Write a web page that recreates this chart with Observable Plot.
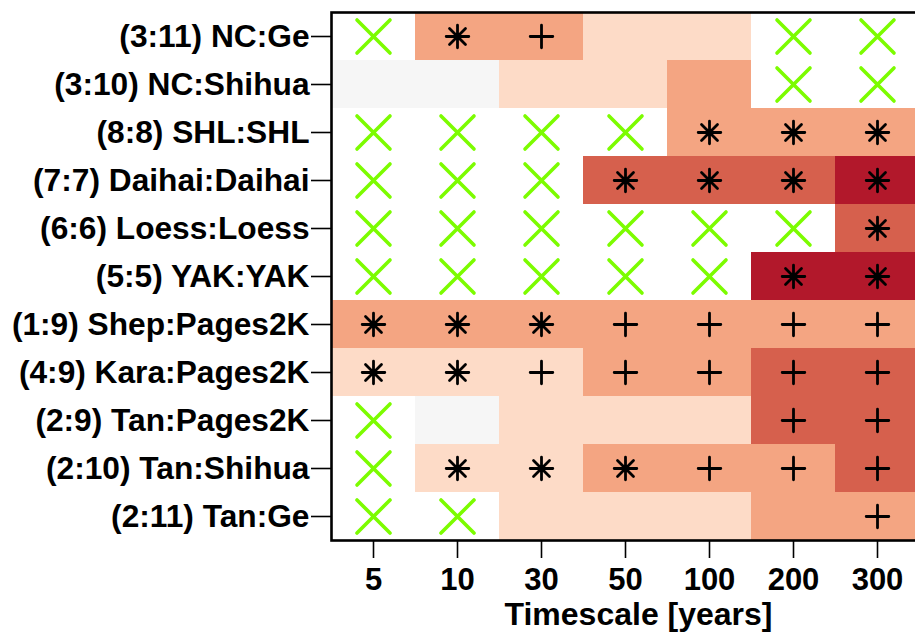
<!DOCTYPE html>
<html>
<head>
<meta charset="utf-8">
<script src="https://cdn.jsdelivr.net/npm/d3@7"></script>
<script src="https://cdn.jsdelivr.net/npm/@observablehq/plot@0.6"></script>
<style>
  html, body { margin: 0; padding: 0; background: #fff; overflow: hidden; }
  #wrap { position: relative; width: 915px; height: 633px; overflow: hidden; background: #fff; }
  #panel { position: absolute; left: 45px; top: -31px; font: bold 31px "Liberation Sans", Arial, sans-serif; line-height: 31px; color: #000; }
  #chart { position: absolute; left: 0; top: 0; width: 940px; }
  #chart svg { max-width: none !important; }
</style>
</head>
<body>
<div id="wrap">
  <div id="panel">(a)</div>
  <div id="chart"></div>
</div>
<script>
// Columns (timescales, years)
const timescales = ["5", "10", "30", "50", "100", "200", "300"];
// Rows, top to bottom
const records = [
  "(3:11) NC:Ge",
  "(3:10) NC:Shihua",
  "(8:8) SHL:SHL",
  "(7:7) Daihai:Daihai",
  "(6:6) Loess:Loess",
  "(5:5) YAK:YAK",
  "(1:9) Shep:Pages2K",
  "(4:9) Kara:Pages2K",
  "(2:9) Tan:Pages2K",
  "(2:10) Tan:Shihua",
  "(2:11) Tan:Ge"
];
// Cell class per row/column: 0 none, 1 ~0, 2 weak, 3 moderate, 4 strong, 5 very strong
const levels = [
  [0, 3, 3, 2, 2, 0, 0],
  [1, 1, 2, 2, 3, 0, 0],
  [0, 0, 0, 0, 3, 3, 3],
  [0, 0, 0, 4, 4, 4, 5],
  [0, 0, 0, 0, 0, 0, 4],
  [0, 0, 0, 0, 0, 5, 5],
  [3, 3, 3, 3, 3, 3, 3],
  [2, 2, 2, 3, 3, 4, 4],
  [0, 1, 2, 2, 2, 4, 4],
  [0, 2, 2, 3, 3, 3, 4],
  [0, 0, 2, 2, 2, 3, 3]
];
// Marker per cell: "x" not computable, "*" and "+" significance markers, "" none
const markers = [
  ["x", "*", "+", "", "", "x", "x"],
  ["", "", "", "", "", "x", "x"],
  ["x", "x", "x", "x", "*", "*", "*"],
  ["x", "x", "x", "*", "*", "*", "*"],
  ["x", "x", "x", "x", "x", "x", "*"],
  ["x", "x", "x", "x", "x", "*", "*"],
  ["*", "*", "*", "+", "+", "+", "+"],
  ["*", "*", "+", "+", "+", "+", "+"],
  ["x", "", "", "", "", "+", "+"],
  ["x", "*", "*", "*", "+", "+", "+"],
  ["x", "x", "", "", "", "", "+"]
];
const levelColors = ["#ffffff", "#f6f6f6", "#fddbc7", "#f4a582", "#d6604d", "#b2182b"];
const xLabel = "Timescale [years]";

const cells = [];
records.forEach((rec, i) => {
  timescales.forEach((ts, j) => {
    cells.push({record: rec, timescale: ts, level: levels[i][j], marker: markers[i][j]});
  });
});

// R-like symbols (pch 4, 3, 8)
const symTimes = {draw(ctx, size) { const r = Math.sqrt(size / Math.PI);
  ctx.moveTo(-r, -r); ctx.lineTo(r, r); ctx.moveTo(-r, r); ctx.lineTo(r, -r); }};
const symPlus = {draw(ctx, size) { const r = Math.sqrt(size / Math.PI);
  ctx.moveTo(-r, 0); ctx.lineTo(r, 0); ctx.moveTo(0, -r); ctx.lineTo(0, r); }};
const symAsterisk = {draw(ctx, size) { const r = Math.sqrt(size / Math.PI); const d = r / Math.SQRT2;
  ctx.moveTo(-r, 0); ctx.lineTo(r, 0); ctx.moveTo(0, -r); ctx.lineTo(0, r);
  ctx.moveTo(-d, -d); ctx.lineTo(d, d); ctx.moveTo(-d, d); ctx.lineTo(d, -d); }};

const font = "'Liberation Sans', Arial, Helvetica, sans-serif";

const plot = Plot.plot({
  width: 940,
  height: 633,
  marginLeft: 331,
  marginRight: 21,
  marginTop: 12,
  marginBottom: 93,
  style: {fontFamily: font, fontSize: "31px", fontWeight: "bold", background: "#fff", color: "#000", maxWidth: "none"},
  x: {type: "band", domain: timescales, padding: 0, label: null},
  y: {type: "band", domain: records, padding: 0, label: null},
  color: {type: "ordinal", domain: d3.range(levelColors.length), range: levelColors},
  marks: [
    Plot.cell(cells, {x: "timescale", y: "record", fill: "level", inset: 0, shapeRendering: "crispEdges"}),
    Plot.dot(cells.filter(d => d.marker === "x"), {x: "timescale", y: "record", symbol: symTimes, r: 16.5,
      stroke: "#7cfc00", strokeWidth: 3.6, strokeLinecap: "round", fill: "none"}),
    Plot.dot(cells.filter(d => d.marker === "+"), {x: "timescale", y: "record", symbol: symPlus, r: 11.3,
      stroke: "#000", strokeWidth: 2.8, strokeLinecap: "round", fill: "none"}),
    Plot.dot(cells.filter(d => d.marker === "*"), {x: "timescale", y: "record", symbol: symAsterisk, r: 11.3,
      stroke: "#000", strokeWidth: 2.8, strokeLinecap: "round", fill: "none"}),
    Plot.frame({stroke: "#000", strokeWidth: 2.6}),
    Plot.axisY({anchor: "left", tickSize: 20, tickPadding: 2, strokeWidth: 1.6, fontSize: 31.7, fontWeight: "bold"}),
    Plot.axisX({anchor: "bottom", tickSize: 18, tickPadding: 9, strokeWidth: 1.6, fontSize: 31, fontWeight: "bold"}),
    Plot.text([xLabel], {frameAnchor: "bottom", dx: 13, dy: 84, fontSize: 32, fontWeight: "bold", fill: "#000"})
  ]
});
document.getElementById("chart").appendChild(plot);
</script>
</body>
</html>
